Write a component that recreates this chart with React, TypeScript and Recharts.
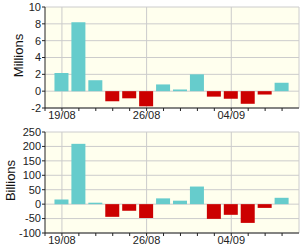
import { Bar, BarChart, CartesianGrid, Cell, Label, XAxis, YAxis } from "recharts";

const dates = [
  "19/08", "20/08", "21/08", "22/08", "23/08", "26/08", "27/08",
  "28/08", "29/08", "30/08", "04/09", "05/09", "06/09", "09/09",
];
const tickLabels = ["19/08", "26/08", "04/09"];
const millions = [2.15, 8.2, 1.3, -1.2, -0.85, -1.8, 0.8, 0.2, 2.0, -0.65, -0.9, -1.5, -0.4, 1.0];
const billions = [16, 209, 5, -44, -23, -48, 20, 12, 61, -51, -37, -65, -13, 22];
const millionTicks = [-2, 0, 2, 4, 6, 8, 10];
const billionTicks = [-100, -50, 0, 50, 100, 150, 200, 250];

const POS = "#66CCCC";
const NEG = "#CC0000";
const FONT = "'Liberation Sans Narrow', 'Liberation Sans', Arial, sans-serif";

const slots = Array.from({ length: dates.length + 1 }, (_, i) => i - 1);
const gridX = [...tickLabels.map((d) => dates.indexOf(d)), dates.length];

// rotated axis title, centred at labelX inside the y axis box
const axisTitle = (title: string, labelX: number) => (props: any) => {
  const vb = props.viewBox || { x: 0, y: 0, width: 45, height: 100 };
  const cx = vb.x + labelX;
  const cy = vb.y + vb.height / 2 - 2;
  return (
    <text
      x={cx}
      y={cy}
      transform={`rotate(-90 ${cx} ${cy})`}
      textAnchor="middle"
      dominantBaseline="central"
      fill="#111"
      fontSize={13}
      fontFamily={FONT}
    >
      {title}
    </text>
  );
};

function Panel({ values, ticks, title, labelX }: { values: number[]; ticks: number[]; title: string; labelX: number }) {
  const data = values.map((v, i) => ({ x: i, value: v }));
  return (
    <BarChart width={300} height={125} data={data} margin={{ top: 7, right: 1, bottom: 5, left: 0 }}>
      <CartesianGrid fill="#FFFFEE" stroke="#CCCCCC" verticalValues={gridX} />
      <XAxis
        dataKey="x"
        type="number"
        domain={[-1, dates.length]}
        ticks={slots}
        interval={0}
        height={12}
        tickSize={3}
        tickMargin={0}
        stroke="#222"
        tick={{ fill: "#222", fontSize: 11, fontFamily: FONT }}
        tickFormatter={(v: number) => (tickLabels.includes(dates[v]) ? dates[v] : "")}
      />
      <YAxis
        domain={[ticks[0], ticks[ticks.length - 1]]}
        ticks={ticks}
        interval={0}
        width={45}
        tickSize={3}
        tickMargin={1}
        stroke="#222"
        tick={{ fill: "#222", fontSize: 11, fontFamily: FONT }}
      >
        <Label content={axisTitle(title, labelX)} />
      </YAxis>
      <Bar dataKey="value" barSize={14} isAnimationActive={false}>
        {data.map((d) => (
          <Cell key={d.x} fill={d.value >= 0 ? POS : NEG} />
        ))}
      </Bar>
    </BarChart>
  );
}

export default function App() {
  return (
    <div style={{ position: "absolute", left: 0, top: 0, width: 300, height: 250, background: "#fff" }}>
      <Panel values={millions} ticks={millionTicks} title="Millions" labelX={18.5} />
      <Panel values={billions} ticks={billionTicks} title="Billions" labelX={10} />
    </div>
  );
}
